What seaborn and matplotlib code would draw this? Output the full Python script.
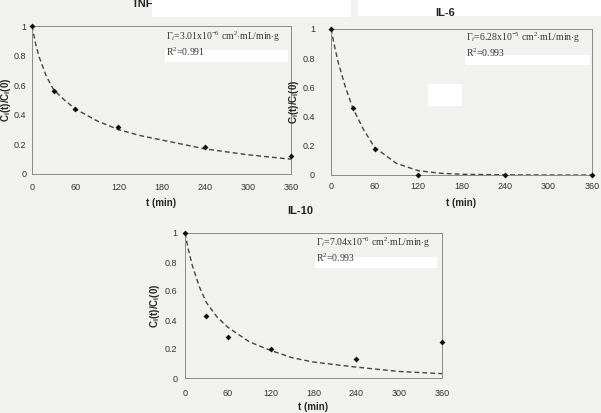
"""Cytokine adsorption kinetics: three panels."""

import matplotlib

matplotlib.use("Agg")
import matplotlib.pyplot as plt
import pandas as pd
import seaborn as sns
from matplotlib.patches import Rectangle

# measured points
t_data = [0, 30, 60, 120, 240, 360]
tnf_data = [1.0, 0.56, 0.44, 0.32, 0.18, 0.12]
il6_data = [1.0, 0.46, 0.18, 0.0, 0.0, 0.0]
il10_data = [1.0, 0.43, 0.28, 0.20, 0.13, 0.25]

# fitted curves
t_fit = [0, 5, 10, 20, 30, 45, 60, 90, 120, 150, 180, 240, 300, 360]
tnf_fit = [1.0, 0.88, 0.79, 0.66, 0.57, 0.50, 0.44, 0.36, 0.30, 0.26, 0.23, 0.17, 0.13, 0.10]
il6_fit = [1.0, 0.88, 0.77, 0.60, 0.46, 0.31, 0.19, 0.08, 0.03, 0.012, 0.005, 0.001, 0.0, 0.0]
il10_fit = [1.0, 0.88, 0.78, 0.63, 0.52, 0.42, 0.35, 0.25, 0.19, 0.14, 0.11, 0.075, 0.045, 0.03]

titles = ["TNF", "IL-6", "IL-10"]
notes = [
    r"$\Gamma_i$=3.01x10$^{-6}$ cm$^2$$\cdot$mL/min$\cdot$g" + "\n" + r"R$^2$=0.991",
    r"$\Gamma_i$=6.28x10$^{-5}$ cm$^2$$\cdot$mL/min$\cdot$g" + "\n" + r"R$^2$=0.993",
    r"$\Gamma_i$=7.04x10$^{-6}$ cm$^2$$\cdot$mL/min$\cdot$g" + "\n" + r"R$^2$=0.993",
]
x_ticks = [0, 60, 120, 180, 240, 300, 360]
y_ticks = [0, 0.2, 0.4, 0.6, 0.8, 1]
y_ticklabels = ["0", "0.2", "0.4", "0.6", "0.8", "1"]

sns.set_style("white")
plt.rcParams["font.family"] = ["Liberation Sans", "DejaVu Sans"]
plt.rcParams["mathtext.fontset"] = "custom"
plt.rcParams["mathtext.rm"] = "Liberation Serif"
plt.rcParams["mathtext.it"] = "Liberation Serif:italic"
plt.rcParams["mathtext.bf"] = "Liberation Sans:bold"

W, H = 601, 413
BG = "#f1f1f0"
fig = plt.figure(figsize=(W / 100, H / 100), dpi=100, facecolor=BG)


def px_axes(x0, x1, y0, y1):
    # pixel box (top y0, bottom y1) -> figure axes
    return fig.add_axes([x0 / W, 1 - y1 / H, (x1 - x0) / W, (y1 - y0) / H])


def fig_rect(x0, y0, x1, y1):
    fig.patches.append(Rectangle((x0 / W, 1 - y1 / H), (x1 - x0) / W, (y1 - y0) / H,
                                 transform=fig.transFigure, facecolor="white",
                                 edgecolor="none", zorder=0))


# white scan patches
fig_rect(152, 0, 351, 17)
fig_rect(358, 0, 601, 16)
fig_rect(428, 84, 462, 106)

boxes = [(32, 291, 26, 174), (331, 592, 29, 175), (185, 442, 233, 378)]
title_pos = [(143, 4), (445, 13), (300, 211)]
note_pos = [(166, 30), (466, 31), (316, 236)]
white_under = [(165, 50, 288, 62), (465, 55, 590, 65), (315, 257, 437, 268)]
ypad = [2.0, 9.5, 3.5]
xpad = [4.8, 2.7, 6.0]
ylab_x = [-0.075, -0.115, -0.09]
xlab_y = [-0.162, -0.158, -0.166]

datasets = [(tnf_data, tnf_fit), (il6_data, il6_fit), (il10_data, il10_fit)]

for (x0, y0, x1, y1) in white_under:
    fig_rect(x0, y0, x1, y1)

for i, (box, (ydat, yfit)) in enumerate(zip(boxes, datasets)):
    ax = px_axes(*box)
    ax.set_facecolor("none")
    df_fit = pd.DataFrame({"t": t_fit, "c": yfit})
    df_pts = pd.DataFrame({"t": t_data, "c": ydat})
    sns.lineplot(data=df_fit, x="t", y="c", ax=ax, color="#444444", lw=1.0,
                 linestyle=(0, (3.5, 2.2)), zorder=2)
    sns.scatterplot(data=df_pts, x="t", y="c", ax=ax, color="#111111", marker="D",
                    s=9, linewidth=0, zorder=3, clip_on=False)
    ax.set_xlim(0, 360)
    ax.set_ylim(0, 1)
    ax.set_xticks(x_ticks)
    ax.set_yticks(y_ticks)
    ax.set_yticklabels(y_ticklabels)
    ax.tick_params(labelsize=6.5, colors="#333333", length=2, width=0.6)
    ax.tick_params(axis="y", pad=ypad[i])
    ax.tick_params(axis="x", pad=xpad[i])
    for s in ax.spines.values():
        s.set_color("#8a8a8a")
        s.set_linewidth(0.7)
    ax.set_xlabel("t (min)", fontsize=7, fontweight="bold")
    ax.set_ylabel(r"C$_\mathbf{i}$(t)/C$_\mathbf{i}$(0)", fontsize=7, fontweight="bold")
    ax.xaxis.set_label_coords(0.5, xlab_y[i])
    ax.yaxis.set_label_coords(ylab_x[i], 0.5)

    tx, ty = title_pos[i]
    fig.text(tx / W, 1 - ty / H, titles[i], fontsize=8, fontweight="bold",
             ha="center", va="center", color="#222222")
    nx, ny = note_pos[i]
    fig.text(nx / W, 1 - ny / H, notes[i], fontsize=7, family="Liberation Serif",
             ha="left", va="top", color="#333333", linespacing=1.1)

fig.savefig("out.png", dpi=100, facecolor=BG)
